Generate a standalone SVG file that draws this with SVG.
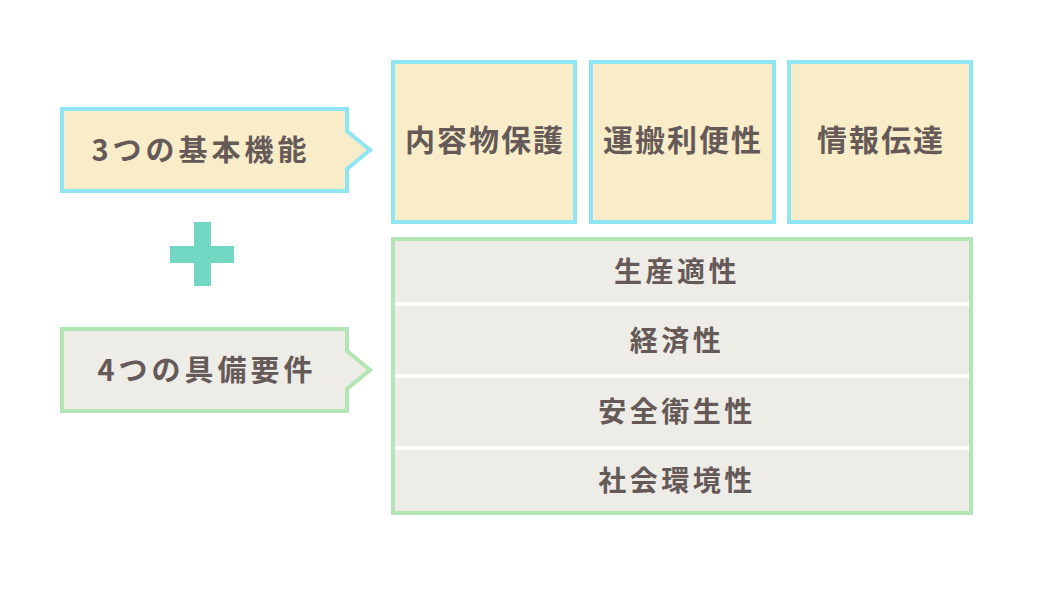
<svg xmlns="http://www.w3.org/2000/svg" width="1048" height="590" viewBox="0 0 1048 590">
<style>
.t{font-family:"Noto Sans CJK JP","Noto Sans",sans-serif;font-weight:bold;fill:#655a57;text-anchor:middle;dominant-baseline:central}
.lbl{font-size:29px;letter-spacing:4px}
.fn{font-size:30px;letter-spacing:2px}
.rq{font-size:28px;letter-spacing:3.5px}
.cy{fill:#f9ecc9;stroke:#8ee6f3;stroke-width:4}
.gr{fill:#eeece7;stroke:#b2e6b4;stroke-width:4}
.row{fill:#eeece7}
</style>
<rect width="1048" height="590" fill="#ffffff"/>
<g id="label-functions">
<path class="cy" d="M62 109 H347 V131 L370 150 L347 169 V191 H62 Z"/>
<text class="t lbl" x="201" y="148">3つの基本機能</text>
</g>
<g id="plus">
<rect x="194" y="222" width="17" height="64" fill="#72d8c4"/>
<rect x="170" y="246" width="64" height="17" fill="#72d8c4"/>
</g>
<g id="label-requirements">
<path class="gr" d="M62 329 H347 V351 L370 370 L347 389 V411 H62 Z"/>
<text class="t lbl" x="207" y="368">4つの具備要件</text>
</g>
<g id="func-protect">
<rect class="cy" x="393" y="62" width="182" height="160"/>
<text class="t fn" x="485" y="138">内容物保護</text>
</g>
<g id="func-transport">
<rect class="cy" x="591" y="62" width="183" height="160"/>
<text class="t fn" x="683" y="138">運搬利便性</text>
</g>
<g id="func-info">
<rect class="cy" x="789" y="62" width="182" height="160"/>
<text class="t fn" x="881" y="138">情報伝達</text>
</g>
<g id="requirements">
<rect x="393" y="239" width="578" height="274" fill="#ffffff" stroke="#b2e6b4" stroke-width="4"/>
<g id="req-production">
<rect class="row" x="395" y="241" width="574" height="61"/>
<text class="t rq" x="677" y="270">生産適性</text>
</g>
<g id="req-economy">
<rect class="row" x="395" y="306" width="574" height="68"/>
<text class="t rq" x="677" y="339">経済性</text>
</g>
<g id="req-safety">
<rect class="row" x="395" y="378" width="574" height="68"/>
<text class="t rq" x="677" y="410">安全衛生性</text>
</g>
<g id="req-environment">
<rect class="row" x="395" y="450" width="574" height="61"/>
<text class="t rq" x="677" y="479">社会環境性</text>
</g>
</g>
</svg>
